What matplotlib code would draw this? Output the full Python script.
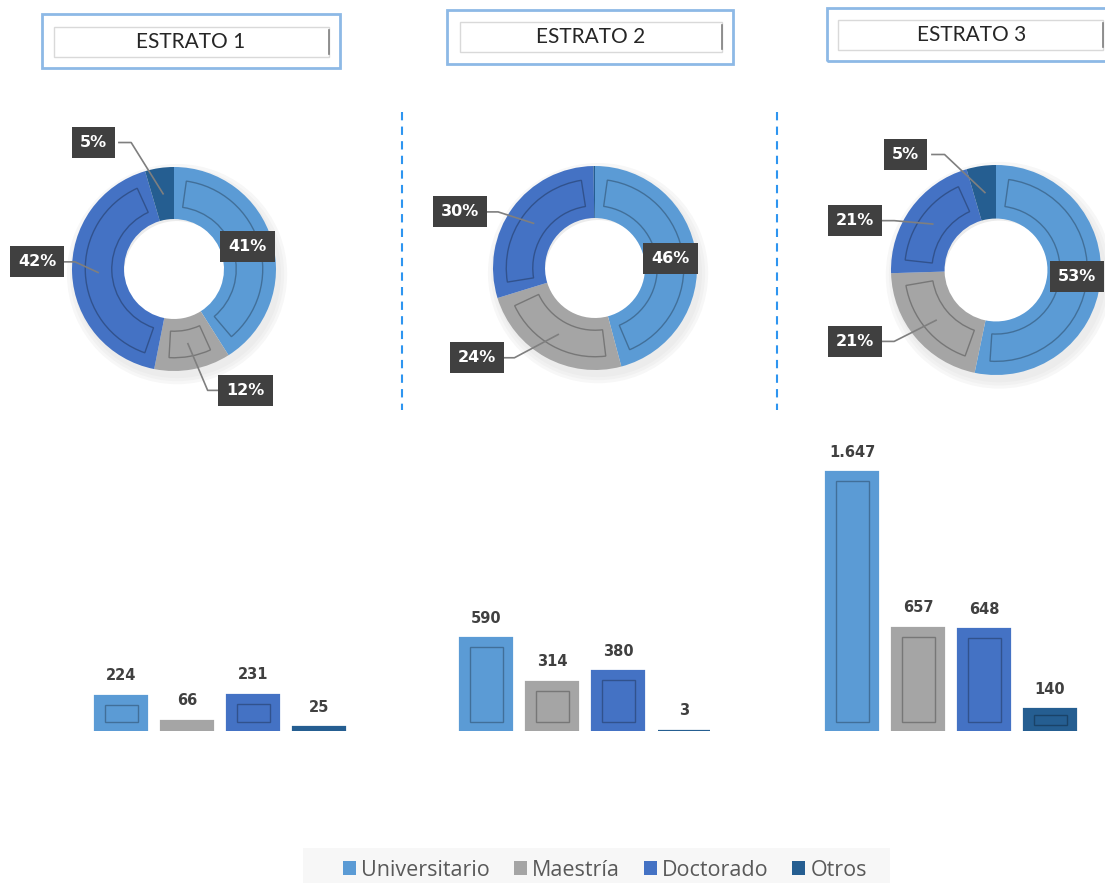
import numpy as np
import matplotlib.pyplot as plt
from matplotlib.patches import Rectangle, Wedge, Patch
from matplotlib.lines import Line2D

W, H = 1105, 883

# data
estratos = ['ESTRATO 1', 'ESTRATO 2', 'ESTRATO 3']
niveles = ['Universitario', 'Maestría', 'Doctorado', 'Otros']
estrato1 = [224, 66, 231, 25]
estrato2 = [590, 314, 380, 3]
estrato3 = [1647, 657, 648, 140]
valores = [estrato1, estrato2, estrato3]
colores = ['#5B9BD5', '#A5A5A5', '#4472C4', '#255E91']

# layout (pixels)
donut_centros = [(174, 269, 102), (595, 268, 102), (996, 270, 105)]
label_pos = [
    [(0.72, 0.22), (0.70, -1.19), (-1.34, 0.07), (-0.79, 1.24)],
    [(0.74, 0.09), (-1.16, -0.88), (-1.32, 0.55), None],
    [(0.77, -0.06), (-1.34, -0.68), (-1.34, 0.47), (-0.86, 1.10)],
]
titulo_outer = [(42, 14, 340, 68), (447, 10, 733, 64), (827, 8, 1112, 61)]
titulo_inner = [(54, 27, 329, 57), (460, 22, 722, 52), (838, 20, 1103, 50)]
titulo_x = [191, 591, 972]
bar_left = [88, 453, 819]
base_y = 731
px_por_unidad = 0.157


def fx(px):
    return px / W


def fy(py):
    return 1 - py / H


def px_ax(left, top, w, h):
    return fig.add_axes([left / W, 1 - (top + h) / H, w / W, h / H])


def caja(x1, y1, x2, y2, **kw):
    fig.add_artist(Rectangle((fx(x1), fy(y2)), (x2 - x1) / W, (y2 - y1) / H,
                             transform=fig.transFigure, fill=False, **kw))


fig = plt.figure(figsize=(W / 100, H / 100), dpi=100)
fig.patch.set_facecolor('white')

# title boxes
for i in range(3):
    caja(*titulo_outer[i], ec='#8DB9E6', lw=2)
    x1, y1, x2, y2 = titulo_inner[i]
    caja(x1, y1, x2, y2, ec='#D9D9D9', lw=1)
    fig.add_artist(Line2D([fx(x2), fx(x2)], [fy(y1 + 3), fy(y2 - 3)],
                          transform=fig.transFigure, color='#7F7F7F', lw=1.2))
    fig.text(fx(titulo_x[i]), fy((y1 + y2) / 2), estratos[i], ha='center',
             va='center', fontsize=15, color='#262626', family='Lato')

# dashed separators
for x in [402, 777]:
    fig.add_artist(Line2D([fx(x), fx(x)], [fy(112), fy(410)],
                          transform=fig.transFigure, color='#2E95F0',
                          lw=1.5, ls=(0, (4, 3))))

# donuts
for i, vals in enumerate(valores):
    cx, cy, R = donut_centros[i]
    S = 3.0 * R
    ax = px_ax(cx - S / 2, cy - S / 2, S, S)
    for k, a in enumerate([0.02, 0.025, 0.03]):
        ax.add_patch(Wedge((0.03, -0.05), 1.02 + 0.03 * k, 0, 360,
                           width=0.5 + 0.03 * k, fc='black', ec='none',
                           alpha=a, zorder=0))
    wedges, _ = ax.pie(vals, colors=colores, startangle=90, counterclock=False,
                       radius=1, wedgeprops=dict(width=0.51, edgecolor='none'))
    ax.set_xlim(-1.5, 1.5)
    ax.set_ylim(-1.5, 1.5)
    total = sum(vals)
    for w, v, pos in zip(wedges, vals, label_pos[i]):
        d = 8
        if w.theta2 - w.theta1 > 2 * d + 1:
            ax.add_patch(Wedge((0, 0), 0.87, w.theta1 + d, w.theta2 - d,
                               width=0.26, fc='none', ec=(0, 0, 0, 0.28),
                               lw=1, zorder=3))
        pct = v / total * 100
        if pos is None or round(pct) == 0:
            continue
        mid = np.radians((w.theta1 + w.theta2) / 2)
        tx, ty = 0.745 * np.cos(mid), 0.745 * np.sin(mid)
        lx, ly = pos
        if np.hypot(lx, ly) > 1:
            s = np.sign(tx - lx)
            ax.plot([lx + s * 0.25, lx + s * 0.37, tx], [ly, ly, ty],
                    color='#7F7F7F', lw=1.2, zorder=4)
        ax.text(lx, ly, f'{pct:.0f}%', ha='center', va='center', fontsize=11.5,
                fontweight='bold', color='white', zorder=6,
                bbox=dict(boxstyle='square,pad=0.5', fc='#404040', ec='none'))

# bars
for i, vals in enumerate(valores):
    h = 300
    ax = px_ax(bar_left[i], base_y - h, 264, h)
    ax.set_xlim(-0.5, 3.5)
    ax.set_ylim(0, h / px_por_unidad)
    bw = 0.78
    ax.bar(range(4), vals, width=bw, color=colores, edgecolor=colores, lw=1.6)
    for x, v in enumerate(vals):
        hpx = v * px_por_unidad
        if hpx > 12:
            iy = min(9, hpx * 0.28) / px_por_unidad
            ax.add_patch(Rectangle((x - bw / 2 + 0.14, iy), bw - 0.28, v - 2 * iy,
                                   fc='none', ec=(0, 0, 0, 0.28), lw=1))
        ax.annotate(f'{v:,}'.replace(',', '.'), (x, v), xytext=(0, 9),
                    textcoords='offset points', ha='center', va='bottom',
                    fontsize=10.5, fontweight='bold', color='#404040')
    ax.axis('off')

# legend
fig.add_artist(Rectangle((fx(303), 0), (890 - 303) / W, 35 / H,
                         transform=fig.transFigure, fc='#F7F7F7', ec='none'))
handles = [Patch(facecolor=c) for c in colores]
fig.legend(handles, niveles, loc='center', bbox_to_anchor=(fx(605), fy(870)),
           ncol=4, frameon=False, handlelength=0.6, handleheight=0.6,
           handletextpad=0.25, columnspacing=1.1, labelcolor='#595959',
           prop={'family': 'Open Sans', 'size': 15.5})

fig.savefig('out.png', dpi=100)
